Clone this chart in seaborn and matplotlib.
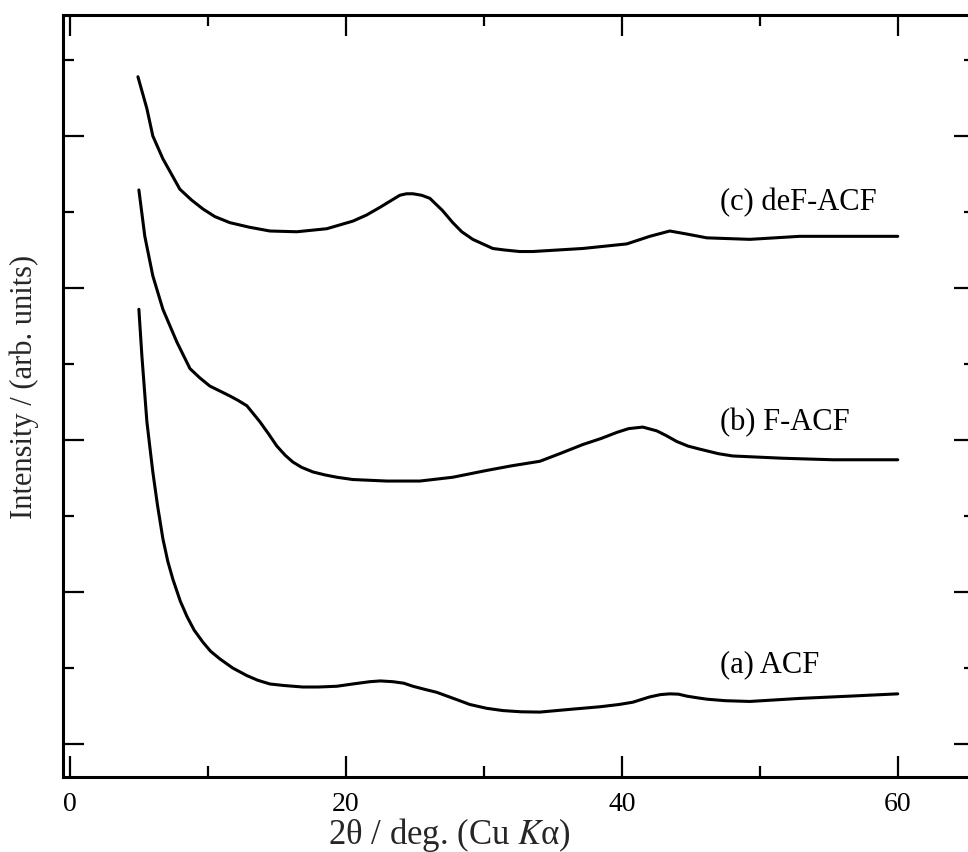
import numpy as np
import pandas as pd
import matplotlib
matplotlib.use("Agg")
import matplotlib.pyplot as plt
import seaborn as sns
from matplotlib.ticker import MultipleLocator

# ---- data (2theta in deg, intensity in arb. units, offset) ----
x_c = [4.93, 5.58, 6.01, 6.74, 7.97, 8.8, 9.64, 10.5, 11.59, 13.0, 14.49, 16.45,
       18.62, 20.51, 21.5, 22.46, 23.91, 24.4, 24.86, 25.5, 26.09, 27.0, 27.75,
       28.4, 29.2, 30.65, 31.5, 32.6, 33.55, 37.17, 40.36, 42.03, 43.48, 44.71,
       46.16, 49.28, 52.9, 56.52, 60.0]
y_c = [4.39, 4.18, 4.00, 3.85, 3.65, 3.58, 3.52, 3.47, 3.43, 3.40, 3.375, 3.37,
       3.39, 3.44, 3.48, 3.53, 3.61, 3.62, 3.62, 3.61, 3.59, 3.51, 3.43,
       3.37, 3.32, 3.26, 3.25, 3.24, 3.24, 3.26, 3.29, 3.34, 3.375, 3.355,
       3.33, 3.32, 3.34, 3.34, 3.34]

x_b = [5.0, 5.43, 6.01, 6.74, 7.75, 8.7, 9.4, 10.14, 11.59, 12.2, 12.83, 13.77,
       14.4, 15.0, 15.6, 16.16, 16.8, 17.61, 18.5, 19.35, 20.5, 22.97, 25.36,
       27.75, 30.22, 32.0, 34.06, 35.5, 37.17, 38.5, 39.64, 40.5, 41.52, 42.54,
       43.2, 43.99, 44.8, 45.65, 47.0, 48.04, 51.67, 55.29, 60.0]
y_b = [3.645, 3.34, 3.08, 2.86, 2.645, 2.47, 2.41, 2.355, 2.29, 2.26, 2.225, 2.12,
       2.04, 1.96, 1.90, 1.855, 1.82, 1.79, 1.77, 1.755, 1.74, 1.73, 1.73,
       1.755, 1.80, 1.83, 1.86, 1.91, 1.97, 2.01, 2.05, 2.075, 2.085, 2.06,
       2.03, 1.99, 1.96, 1.94, 1.91, 1.895, 1.88, 1.87, 1.87]

x_a = [5.0, 5.22, 5.58, 5.8, 6.01, 6.35, 6.74, 7.1, 7.46, 8.0, 8.48, 9.0, 9.64,
       10.2, 10.87, 11.8, 12.83, 13.6, 14.49, 15.5, 16.88, 18.0, 19.35, 20.5,
       21.74, 22.5, 23.41, 24.2, 24.86, 25.7, 26.59, 27.8, 28.99, 30.2, 31.38,
       32.7, 34.06, 36.5, 38.41, 39.8, 40.8, 41.5, 42.03, 42.8, 43.48, 44.1,
       44.71, 45.4, 46.16, 47.5, 49.28, 52.9, 56.52, 60.0]
y_a = [2.86, 2.55, 2.12, 1.95, 1.79, 1.57, 1.35, 1.20, 1.085, 0.94, 0.84, 0.75, 0.67,
       0.61, 0.56, 0.50, 0.45, 0.42, 0.395, 0.385, 0.375, 0.375, 0.38, 0.395,
       0.41, 0.415, 0.41, 0.40, 0.38, 0.36, 0.34, 0.30, 0.26, 0.235, 0.22,
       0.212, 0.21, 0.23, 0.245, 0.26, 0.275, 0.295, 0.31, 0.325, 0.33, 0.328,
       0.315, 0.305, 0.295, 0.285, 0.28, 0.30, 0.315, 0.33]

labels = ["(a) ACF", "(b) F-ACF", "(c) deF-ACF"]
label_x = [47.1, 47.1, 47.1]
label_y = [0.53, 2.12, 3.57]

xticks = [0, 20, 40, 60]

# ---- styling ----
sns.set_style("ticks")
plt.rcParams["font.family"] = ["Liberation Serif", "DejaVu Serif"]
plt.rcParams["mathtext.fontset"] = "stix"

fig = plt.figure(figsize=(9.68, 8.53), dpi=100)
ax = fig.add_axes([63 / 968, 1 - 778 / 853, (975 - 63) / 968, (778 - 16) / 853])

for xs, ys in [(x_a, y_a), (x_b, y_b), (x_c, y_c)]:
    df = pd.DataFrame({"x": xs, "y": ys})
    sns.lineplot(data=df, x="x", y="y", ax=ax, color="black", linewidth=2.2,
                 estimator=None, sort=False)

for t, lx, ly in zip(labels, label_x, label_y):
    ax.text(lx, ly, t, fontsize=22, ha="left", va="center", color="black")

ax.set_xlim(-0.5, 65.6)
ax.set_ylim(-0.217, 4.796)
ax.set_xticks(xticks)
ax.set_xticklabels([str(v) for v in xticks])
ax.xaxis.set_minor_locator(MultipleLocator(10))
ax.set_yticks([0, 1, 2, 3, 4])
ax.set_yticklabels([])
ax.yaxis.set_minor_locator(MultipleLocator(0.5))

ax.tick_params(which="both", direction="in", top=True, right=True,
               width=1.6, colors="black", labelsize=20, pad=10)
ax.tick_params(which="major", length=15)
ax.tick_params(which="minor", length=8)
for s in ax.spines.values():
    s.set_linewidth(2.2)
    s.set_color("black")

ax.set_xlabel("2θ / deg. (Cu $K$α)", fontsize=25)
ax.set_ylabel("Intensity / (arb. units)", fontsize=22)
ax.xaxis.set_label_coords((449 - 63) / 912, -0.050)
ax.yaxis.set_label_coords(-0.026, 0.513)

fig.savefig("out.png", dpi=100)
